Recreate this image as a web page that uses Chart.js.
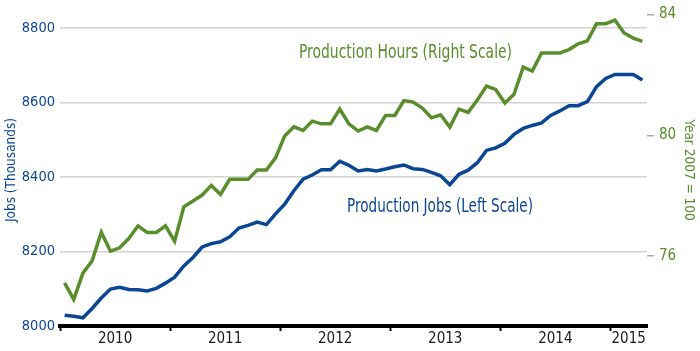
<!DOCTYPE html>
<html>
<head>
<meta charset="utf-8">
<title>Production Jobs and Hours</title>
<script src="https://cdn.jsdelivr.net/npm/chart.js@4.4.1/dist/chart.umd.min.js"></script>
<style>
body{margin:0;background:#fff}
#wrap{width:700px;height:351px}
</style>
</head>
<body>
<div id="wrap"><canvas id="chart" width="700" height="351"></canvas></div>
<script>

// monthly, Jan 2010 - Apr 2015
const months=[
"2010-01","2010-02","2010-03","2010-04","2010-05","2010-06","2010-07","2010-08","2010-09","2010-10","2010-11","2010-12",
"2011-01","2011-02","2011-03","2011-04","2011-05","2011-06","2011-07","2011-08","2011-09","2011-10","2011-11","2011-12",
"2012-01","2012-02","2012-03","2012-04","2012-05","2012-06","2012-07","2012-08","2012-09","2012-10","2012-11","2012-12",
"2013-01","2013-02","2013-03","2013-04","2013-05","2013-06","2013-07","2013-08","2013-09","2013-10","2013-11","2013-12",
"2014-01","2014-02","2014-03","2014-04","2014-05","2014-06","2014-07","2014-08","2014-09","2014-10","2014-11","2014-12",
"2015-01","2015-02","2015-03","2015-04"
]

// production jobs, thousands (left scale)
const jobs=[
8029,8026,8022,8047,8075,8099,8104,8098,8097,8094,8101,8115,
8131,8161,8184,8212,8221,8226,8239,8263,8270,8279,8272,8301,
8327,8363,8394,8405,8419,8419,8442,8431,8416,8420,8416,8421,
8427,8432,8422,8420,8412,8403,8379,8407,8418,8438,8471,8478,
8490,8514,8530,8538,8545,8565,8577,8591,8591,8602,8642,8664,
8675,8675,8675,8660
]

// production hours index, 2007 = 100 (right scale)
const hours=[
75.11,74.56,75.43,75.84,76.79,76.16,76.27,76.58,77.00,76.78,76.78,77.00,
76.49,77.63,77.82,78.02,78.34,78.04,78.54,78.54,78.54,78.85,78.85,79.25,
79.98,80.28,80.16,80.47,80.38,80.38,80.87,80.38,80.14,80.28,80.16,80.66,
80.66,81.15,81.10,80.90,80.58,80.68,80.27,80.87,80.76,81.17,81.63,81.52,
81.07,81.36,82.26,82.13,82.73,82.73,82.73,82.84,83.03,83.13,83.70,83.70,
83.82,83.39,83.22,83.11
]

// year labels sit at the middle of each year
const yearLabels={
"2010-06":"2010","2011-06":"2011","2012-06":"2012",
"2013-06":"2013","2014-06":"2014","2015-02":"2015"
}

const leftTicks=[8000,8200,8400,8600,8800]
const rightTicks=[76,80,84]

const BLUE="#0b4694"
const GREEN="#5a8d2c"
const FONT="'Liberation Sans Narrow','DejaVu Sans Condensed',sans-serif"

const notes={
id:"notes",
afterDatasetsDraw(chart){
const ctx=chart.ctx
ctx.save()
ctx.font="20px "+FONT
ctx.textBaseline="alphabetic"
ctx.textAlign="left"
ctx.fillStyle=GREEN
ctx.fillText("Production Hours (Right Scale)",299,58,213)
ctx.fillStyle=BLUE
ctx.fillText("Production Jobs (Left Scale)",347,212,186)
ctx.restore()
}
}

Chart.defaults.font.family=FONT

new Chart(document.getElementById("chart"),{
type:"line",
data:{
labels:months,
datasets:[
{
label:"Production Jobs",
data:jobs,
yAxisID:"y",
borderColor:BLUE,
borderWidth:3.5,
pointRadius:0,
tension:0
},
{
label:"Production Hours",
data:hours,
yAxisID:"y1",
borderColor:GREEN,
borderWidth:3.5,
pointRadius:0,
tension:0
}
]
},
options:{
responsive:false,
animation:false,
devicePixelRatio:1,
layout:{padding:{top:10,left:0,right:0,bottom:0}},
plugins:{legend:{display:false},tooltip:{enabled:false}},
scales:{
x:{
type:"category",
offset:true,
afterFit(s){s.height=25},
grid:{
offset:true,
drawOnChartArea:false,
drawTicks:true,
tickLength:5,
tickWidth:2,
tickColor:(c)=>(c.index%12===0&&c.index<months.length)?"#000":"rgba(0,0,0,0)"
},
border:{display:true,color:"#000",width:4},
ticks:{
autoSkip:false,
maxRotation:0,
minRotation:0,
padding:-1,
labelOffset:4.6,
color:"#1a1a1a",
font:{size:15},
callback:(v,i)=>yearLabels[months[i]]||""
}
},
y:{
position:"left",
min:8000,
max:8837,
afterFit(s){s.width=60},
afterBuildTicks(s){s.ticks=leftTicks.map(v=>({value:v}))},
grid:{color:"#d3d3d3",lineWidth:1.5,drawTicks:false},
border:{display:false},
ticks:{color:BLUE,padding:5,font:{size:14.5},callback:(v)=>String(v)},
title:{display:true,text:"Jobs (Thousands)",color:BLUE,font:{size:13.5},padding:{top:3,bottom:0}}
},
y1:{
position:"right",
min:73.68,
max:84.02,
afterFit(s){s.width=53},
afterBuildTicks(s){s.ticks=rightTicks.map(v=>({value:v}))},
grid:{drawOnChartArea:false,drawTicks:true,tickLength:7,tickColor:"#aaa",lineWidth:1.5},
border:{display:false},
ticks:{color:GREEN,padding:5,font:{size:15},callback:(v)=>String(v)},
title:{display:true,text:"Year 2007 = 100",color:GREEN,font:{size:13.5},padding:{top:3,bottom:0}}
}
}
},
plugins:[notes]
})

</script>
</body>
</html>
